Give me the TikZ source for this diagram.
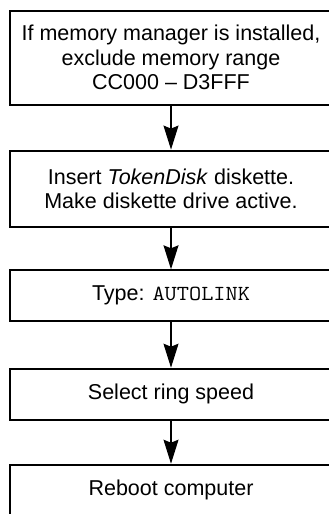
\documentclass[tikz,border=0pt]{standalone}
\usepackage{fontspec}
\setmainfont{Liberation Sans}
\setmonofont{Latin Modern Mono}[FakeStretch=1.1]
\usetikzlibrary{arrows.meta}
\begin{document}
\begin{tikzpicture}[x=1pt, y=-1pt,
  stepbox/.style={draw, line width=2pt, minimum width=323pt, inner sep=0pt,
    align=center, font=\fontsize{21.5}{24.5}\selectfont},
  flow/.style={-{Stealth[length=24pt, width=15pt, inset=3pt]}, line width=1.2pt}]
  \useasboundingbox (0,0) rectangle (329,514);
  \clip (0,0) rectangle (329,514);

  \node[stepbox, minimum height=94pt] (mem) at (171,57.5)
    {If memory manager is installed,\\ exclude memory range\\ CC000 – D3FFF};
  \node[stepbox, minimum height=76pt] (disk) at (171,188.6)
    {Insert \textit{TokenDisk} diskette.\\[-1pt] Make diskette drive active.};
  \node[stepbox, minimum height=51pt] (type) at (171,295.8)
    {Type: \texttt{AUTOLINK}};
  \node[stepbox, minimum height=51pt] (ring) at (171,394.2)
    {Select ring speed};
  \node[stepbox, minimum height=51pt] (boot) at (171,490.2)
    {Reboot computer};

  \draw[flow] (mem) -- (disk);
  \draw[flow] (disk) -- (type);
  \draw[flow] (type) -- (ring);
  \draw[flow] (ring) -- (boot);
\end{tikzpicture}
\end{document}
